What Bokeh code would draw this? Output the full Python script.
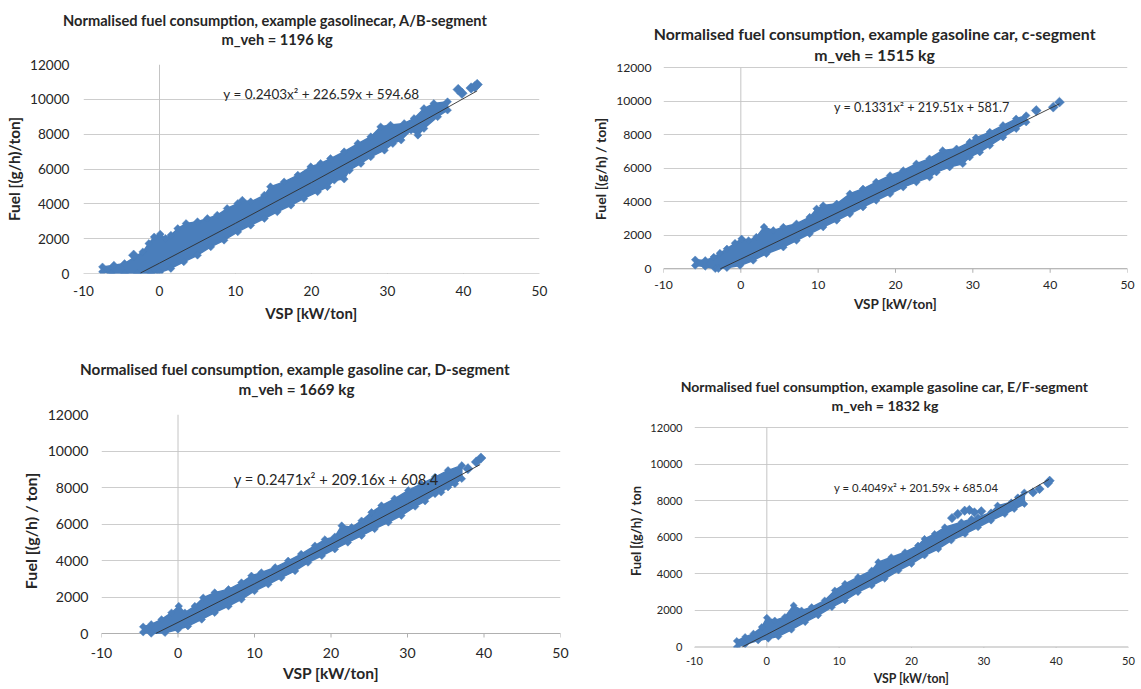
import math
from bokeh.plotting import figure
from bokeh.layouts import column, row
from bokeh.models import Range1d, Title, FixedTicker, Label
from bokeh.embed import file_html
from bokeh.resources import INLINE

# ---------------- data ----------------
x_ticks = [-10, 0, 10, 20, 30, 40, 50]
y_ticks = [0, 2000, 4000, 6000, 8000, 10000, 12000]

titles = [
    "Normalised fuel consumption, example gasolinecar, A/B-segment",
    "Normalised fuel consumption, example gasoline car, c-segment",
    "Normalised fuel consumption, example gasoline car, D-segment",
    "Normalised fuel consumption, example gasoline car, E/F-segment",
]
masses = ["m_veh = 1196 kg", "m_veh = 1515 kg", "m_veh = 1669 kg", "m_veh = 1832 kg"]
equations = [
    "y = 0.2403x\u00b2 + 226.59x + 594.68",
    "y = 0.1331x\u00b2 + 219.51x + 581.7",
    "y = 0.2471x\u00b2 + 209.16x + 608.4",
    "y = 0.4049x\u00b2 + 201.59x + 685.04",
]
y_labels = ["Fuel [(g/h)/ton]", "Fuel [(g/h) / ton]", "Fuel [(g/h) / ton]", "Fuel [(g/h) / ton"]
x_label = "VSP [kW/ton]"

# A/B segment
ab_upper_x = [-7.5, -6.0, -4.6, -2.2, -1.4, -0.7, 0.1, 0.8, 1.5, 2.4, 3.5, 5.0, 6.3, 7.6, 8.9, 10.3, 10.9, 12.0,
              13.8, 14.6, 16.4, 18.2, 19.9, 21.2, 22.5, 24.3, 26.1, 27.8, 29.1, 30.4, 32.2, 33.5, 34.8, 36.1, 37.9]
ab_upper_y = [380, 480, 570, 1240, 1720, 2100, 2260, 2010, 2200, 2580, 2870, 2970, 3160, 3350, 3730, 4020, 4210, 4115,
              4500, 4980, 5260, 5650, 6125, 6320, 6600, 6990, 7460, 7850, 8420, 8520, 8610, 8900, 9470, 9760, 9860]
ab_lower_x = [-7.5, -6.4, -4.6, -2.9, -1.1, 0.0, 1.5, 3.2, 5.0, 6.75, 8.5, 10.3, 12.0, 13.8, 15.5, 17.3, 19.0, 20.8,
              22.1, 23.0, 24.3, 25.0, 26.5, 27.8, 29.6, 30.7, 31.8, 33.1, 34.0, 34.8, 36.6, 37.9]
ab_lower_y = [100, 0, 0, 0, 0, 60, 290, 670, 1050, 1530, 1910, 2390, 2775, 3160, 3540, 3920, 4310, 4690,
              4980, 5360, 5420, 5930, 6320, 6700, 7080, 7460, 7660, 8230, 7940, 8330, 9000, 9380]
ab_out_x = [-3.4, 39.3, 39.8, 41.0, 41.5, 41.8]
ab_out_y = [1050, 10560, 10350, 10650, 10720, 10850]
ab_trend_x = [-2.5, 0, 10, 20, 30, 41.8]
ab_trend_y = [30, 595, 2885, 5222, 7609, 10486]

# C segment
c_upper_x = [-5.9, -4.6, -3.5, -2.7, -1.8, -0.75, 0.1, 1.0, 2.0, 3.0, 4.2, 5.5, 7.2, 8.9, 9.8, 10.65, 12.4, 14.1,
             15.8, 17.5, 19.3, 21.0, 22.7, 24.4, 26.1, 27.9, 29.6, 30.4, 32.2, 33.9, 35.6, 36.9]
c_upper_y = [540, 500, 700, 935, 1190, 1530, 1790, 1690, 1890, 2490, 2290, 2490, 2690, 3085, 3580, 3780, 3880, 4480,
             4775, 5175, 5570, 5870, 6270, 6570, 7065, 7165, 7560, 7820, 8160, 8560, 8955, 9150]
c_lower_x = [-5.9, -4.6, -3.3, -2.9, -1.8, -0.1, 1.6, 3.3, 5.5, 7.2, 8.9, 10.65, 12.4, 14.1, 15.8, 17.5, 19.3, 21.0,
             22.7, 24.4, 25.3, 27.0, 28.7, 29.6, 30.9, 32.2, 33.9, 35.6, 36.9]
c_lower_y = [200, 140, 0, 0, 60, 200, 500, 900, 1290, 1690, 2090, 2490, 2885, 3280, 3680, 4080, 4480, 4875,
             5175, 5470, 5770, 6070, 6270, 6670, 6965, 7360, 7860, 8360, 8755]
c_out_x = [38.2, 40.4, 41.2]
c_out_y = [9450, 9650, 9950]
c_trend_x = [-2.65, 0, 10, 20, 30, 41.2]
c_trend_y = [0, 582, 2790, 5025, 7287, 9852]

# D segment
d_upper_x = [-4.55, -3.5, -2.15, -0.85, 0.1, 0.9, 2.2, 3.3, 4.8, 6.6, 8.3, 9.6, 10.9, 12.7, 14.4, 16.1, 17.9, 19.2,
             20.5, 21.4, 22.7, 24.0, 25.3, 26.6, 28.3, 30.1, 31.8, 33.6, 35.3, 37.1]
d_upper_y = [370, 500, 770, 1140, 1500, 1140, 1500, 1960, 2240, 2420, 2790, 3160, 3340, 3620, 3980, 4350, 4810, 5150,
             5300, 5910, 5820, 6180, 6640, 7010, 7380, 7840, 8200, 8570, 8940, 9210]
d_lower_x = [-4.55, -3.5, -1.7, 0.0, 1.3, 3.1, 4.8, 6.6, 8.3, 10.0, 11.8, 13.5, 15.3, 17.0, 18.8, 20.5, 22.2, 24.0,
             25.7, 27.5, 29.2, 31.0, 32.3, 33.6, 34.4, 35.3, 36.2, 37.1]
d_lower_y = [70, 0, 40, 220, 400, 770, 1140, 1500, 1870, 2330, 2700, 3060, 3430, 3890, 4260, 4620, 4990, 5360,
             5730, 6090, 6460, 6960, 7250, 7650, 7740, 8020, 8200, 8480]
d_out_x = [37.9, 39.0, 39.6]
d_out_y = [9030, 9400, 9615]
d_trend_x = [-2.9, 0, 10, 20, 30, 39.5]
d_trend_y = [4, 608, 2725, 4890, 7106, 9256]

# E/F segment
ef_upper_x = [-4.15, -3.0, -1.85, -0.7, 0.0, 1.1, 2.5, 3.7, 4.8, 6.2, 8.0, 9.4, 10.8, 12.6, 14.5, 15.4, 17.2, 19.1,
              20.9, 21.8, 23.2, 24.6, 26.9, 28.3, 29.2, 31.0, 31.9, 33.8, 34.7, 35.6]
ef_upper_y = [330, 545, 730, 1090, 1600, 1450, 1640, 2270, 2000, 2180, 2545, 3090, 3450, 3820, 4180, 4640, 4910, 5180,
              5545, 5910, 6180, 6545, 6820, 7000, 7090, 7360, 7730, 7910, 8180, 8450]
ef_lower_x = [-4.15, -3.0, -1.2, 0.2, 1.6, 3.4, 5.3, 7.1, 9.0, 10.8, 12.6, 14.5, 16.3, 18.2, 20.0, 21.8, 23.7, 25.5,
              27.4, 29.2, 31.0, 32.9, 34.2, 35.6]
ef_lower_y = [0, 145, 360, 455, 580, 945, 1360, 1730, 2180, 2545, 3000, 3360, 3730, 4180, 4545, 5000, 5360, 5820,
              6180, 6545, 6910, 7270, 7545, 7820]
ef_out_x = [25.6, 26.4, 27.35, 28.0, 28.7, 29.65, 36.8, 37.7, 38.85, 39.1]
ef_out_y = [7050, 7270, 7450, 7490, 7360, 7420, 8450, 8640, 8950, 9090]
ef_trend_x = [-3.4, 0, 10, 20, 30, 39.0]
ef_trend_y = [4, 685, 2741, 4879, 7097, 9163]

# equation anchor (data coordinates, left edge / middle)
eq_pos = [(8.4, 10280), (12.05, 9650), (7.3, 8490), (9.3, 8720)]

# ---------------- styling / layout ----------------
FONT = "Lato"
BLUE = "#4a7ebb"
TXT = "#262626"
GRID = "#cdcdcd"
AXIS = "#b0b0b0"

series = [
    (ab_upper_x, ab_upper_y, ab_lower_x, ab_lower_y, ab_out_x, ab_out_y, ab_trend_x, ab_trend_y),
    (c_upper_x, c_upper_y, c_lower_x, c_lower_y, c_out_x, c_out_y, c_trend_x, c_trend_y),
    (d_upper_x, d_upper_y, d_lower_x, d_lower_y, d_out_x, d_out_y, d_trend_x, d_trend_y),
    (ef_upper_x, ef_upper_y, ef_lower_x, ef_lower_y, ef_out_x, ef_out_y, ef_trend_x, ef_trend_y),
]

# Plots in one row share their frame top / bottom, so each row gets common borders
# and the y-range is chosen so that 0 and 12000 land where the reference has them.
# py0 / py12: pixel rows of y=0 and y=12000 measured from the frame top.
layout_specs = [
    dict(w=580, h=340, left=83, fw=456, top=64, bottom=67, py0=209, py12=0,
         tick=13.6, xl=15.0, yl=15.4, title=14.65, eq=13.5, edge=5.6, marker=7.4,
         t1_left=-20.5, t2_left=138, spacer=16.5,
         xstand=12, xlstand=5, ystand=14, ylstand=4),
    dict(w=561, h=340, left=83, fw=464, top=64, bottom=67, py0=204.3, py12=3.3,
         tick=12.2, xl=13.5, yl=14.1, title=15.85, eq=12.6, edge=5.4, marker=7.0,
         t1_left=-9.8, t2_left=150.8, spacer=0,
         xstand=7, xlstand=4, ystand=12, ylstand=4),
    dict(w=600, h=349, left=101, fw=459, top=74, bottom=42, py0=219, py12=0,
         tick=14.1, xl=15.6, yl=16.0, title=15.25, eq=14.7, edge=5.4, marker=7.2,
         t1_left=-21.4, t2_left=137, spacer=16,
         xstand=0, xlstand=3, ystand=13, ylstand=5),
    dict(w=541, h=349, left=94, fw=434, top=74, bottom=42, py0=232.5, py12=13,
         tick=11.1, xl=12.3, yl=12.9, title=14.05, eq=11.3, edge=5.0, marker=6.6,
         t1_left=-13.8, t2_left=137, spacer=0,
         xstand=9, xlstand=3, ystand=12, ylstand=3),
]


def make_panel(i):
    s = layout_specs[i]
    ux, uy, lx, ly, ox_, oy_, tx, ty = series[i]
    fh = s["h"] - s["top"] - s["bottom"]
    upp = (y_ticks[-1] - y_ticks[0]) / (s["py0"] - s["py12"])      # data units per pixel
    y_start = y_ticks[0] - (fh - s["py0"]) * upp
    y_end = y_ticks[-1] + s["py12"] * upp

    p = figure(width=s["w"], height=s["h"],
               x_range=Range1d(x_ticks[0], x_ticks[-1]), y_range=Range1d(y_start, y_end),
               output_backend="svg", toolbar_location=None,
               min_border_left=s["left"], min_border_top=s["top"],
               min_border_right=s["w"] - s["left"] - s["fw"],
               min_border_bottom=s["bottom"])
    p.outline_line_color = None
    p.background_fill_color = "white"
    p.border_fill_color = "white"

    # axes
    p.xaxis.ticker = FixedTicker(ticks=x_ticks)
    p.yaxis.ticker = FixedTicker(ticks=y_ticks)
    p.xaxis.major_label_overrides = {t: str(t) for t in x_ticks}
    p.xaxis.axis_label = x_label
    p.yaxis.axis_label = y_labels[i]
    for ax in (p.xaxis, p.yaxis):
        ax.major_label_text_font = FONT
        ax.major_label_text_color = TXT
        ax.major_label_text_font_size = f"{s['tick']}px"
        ax.axis_label_text_font = FONT
        ax.axis_label_text_font_style = "bold"
        ax.axis_label_text_color = TXT
        ax.minor_tick_line_color = None
        ax.axis_line_color = None
        ax.major_tick_line_color = None
        ax.major_tick_out = 0
        ax.major_tick_in = 0
    p.xaxis.axis_label_text_font_size = f"{s['xl']}px"
    p.yaxis.axis_label_text_font_size = f"{s['yl']}px"
    p.xaxis.major_label_standoff = int(s["xstand"])
    p.xaxis.axis_label_standoff = int(s["xlstand"])
    p.yaxis.major_label_standoff = int(s["ystand"])
    p.yaxis.axis_label_standoff = int(s["ylstand"])
    p.xgrid.visible = False
    p.ygrid.grid_line_color = GRID
    p.ygrid.grid_line_width = 1

    # Excel-style axis lines: vertical at x=0, horizontal at y=0 with downward ticks
    p.segment(x0=[0], y0=[y_ticks[0]], x1=[0], y1=[y_ticks[-1]], line_color="#c4c4c4", line_width=1)
    p.segment(x0=[x_ticks[0]], y0=[y_ticks[0]], x1=[x_ticks[-1]], y1=[y_ticks[0]],
              line_color=AXIS, line_width=1)
    tick_len = 4 * upp
    p.segment(x0=x_ticks, y0=[y_ticks[0]] * len(x_ticks), x1=x_ticks,
              y1=[y_ticks[0] - tick_len] * len(x_ticks), line_color=AXIS, line_width=1)

    # dense cloud of measurement diamonds: filled envelope + diamonds on its edges
    px = list(ux) + list(reversed(lx))
    py = list(uy) + list(reversed(ly))
    p.patch(px, py, fill_color=BLUE, line_color=BLUE, line_width=1.5)
    p.scatter(list(ux) + list(lx), list(uy) + list(ly), marker="square", angle=math.pi / 4,
              size=s["edge"], fill_color=BLUE, line_color=BLUE, line_width=0.5)
    p.scatter(ox_, oy_, marker="square", angle=math.pi / 4, size=s["marker"],
              fill_color=BLUE, line_color=BLUE, line_width=0.5)

    # trend line
    p.line(tx, ty, line_color="#303030", line_width=0.9)

    # equation
    ex, ey = eq_pos[i]
    p.add_layout(Label(x=ex, y=ey, text=equations[i], text_font=FONT,
                       text_font_size=f"{s['eq']}px", text_color=TXT,
                       text_align="left", text_baseline="middle"))

    # two-line title (added from the frame outwards)
    if s["spacer"] > 0:
        p.add_layout(Title(text=" ", text_font_size="1px", standoff=max(s["spacer"] - 3.2, 0)), "above")
    p.add_layout(Title(text=masses[i], align="left", offset=s["t2_left"], standoff=0,
                       vertical_align="middle", text_font=FONT, text_font_style="bold",
                       text_font_size=f"{s['title']}px", text_color=TXT), "above")
    p.add_layout(Title(text=titles[i], align="left", offset=s["t1_left"], standoff=0,
                       vertical_align="middle", text_font=FONT, text_font_style="bold",
                       text_font_size=f"{s['title']}px", text_color=TXT), "above")
    return p


panels = [make_panel(i) for i in range(4)]
layout = column(row(panels[0], panels[1], spacing=0), row(panels[2], panels[3], spacing=0), spacing=0)

with open("out.html", "w") as f:
    f.write(file_html(layout, INLINE))
